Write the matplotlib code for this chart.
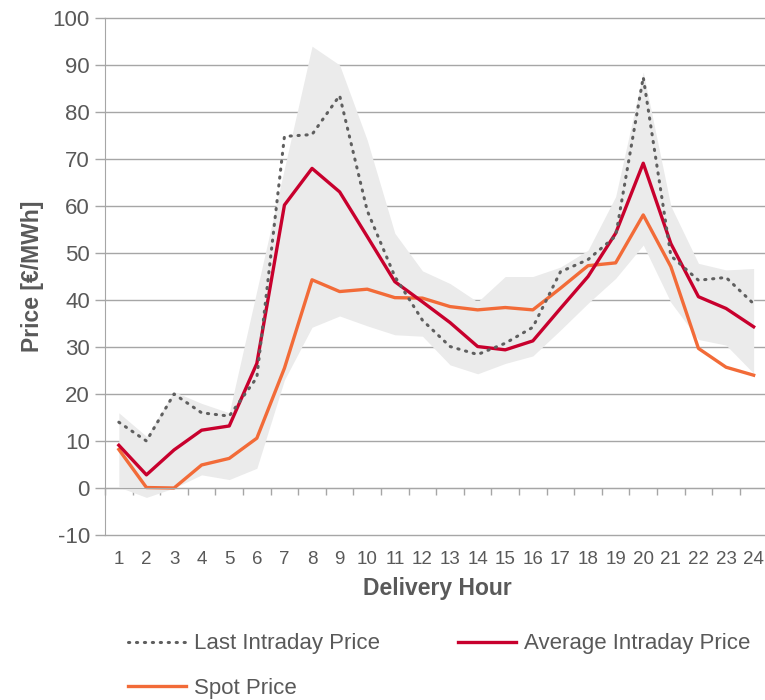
import numpy as np
import matplotlib
matplotlib.use("Agg")
import matplotlib.pyplot as plt
from matplotlib.ticker import FixedLocator, NullFormatter, FixedFormatter

plt.rcParams['font.family'] = ['Liberation Sans', 'DejaVu Sans']
plt.rcParams['axes.unicode_minus'] = False

# dados
hours = list(range(1, 25))
last_intraday = [14, 10, 20, 16, 15.3, 23.5, 74.8, 75.2, 83.5, 59, 45, 35.7,
                 30.1, 28.4, 30.8, 34.2, 46, 48.6, 53.6, 87.4, 49.4, 44.2, 44.8, 39.2]
avg_intraday = [9.1, 2.8, 8.1, 12.3, 13.2, 26.5, 60.2, 68, 63, 53.5, 43.9, 39.6,
                35.2, 30.1, 29.4, 31.3, 38.2, 45, 54.2, 69.1, 52, 40.7, 38.2, 34.3]
spot = [8.2, 0.1, 0, 4.9, 6.3, 10.6, 25.5, 44.3, 41.8, 42.3, 40.5, 40.4,
        38.6, 37.9, 38.4, 37.9, 42.5, 47.3, 47.9, 58.1, 47.1, 29.7, 25.7, 24.0]
band_high = [16, 11, 20.5, 18, 16, 42, 68, 94, 90, 74, 54.2, 46.2,
             43.5, 39.6, 45, 45, 47, 50.6, 62, 88.5, 60, 47.8, 46.4, 46.7]
band_low = [0.2, -2, 0, 2.8, 1.8, 4.2, 23, 34.2, 36.6, 34.5, 32.6, 32.3,
            26.2, 24.3, 26.5, 28.1, 33.6, 39.3, 44.6, 51.7, 39.5, 31.6, 30.4, 24.4]

txt = '#595959'
grid_c = '#a6a6a6'

fig = plt.figure(figsize=(7.65, 7.0), dpi=100)
ax = fig.add_axes([0.1373, 0.2357, 0.8659, 0.7386])

ax.fill_between(hours, band_low, band_high, color='#ebebeb', lw=0, zorder=1)
l1, = ax.plot(hours, last_intraday, color='#5f5f5f', lw=2.2,
              linestyle=(0, (0.4, 2.2)), dash_capstyle='round',
              label='Last Intraday Price', zorder=4)
l2, = ax.plot(hours, avg_intraday, color='#c8002d', lw=2.4,
              label='Average Intraday Price', zorder=3)
l3, = ax.plot(hours, spot, color='#f26b38', lw=2.4,
              label='Spot Price', zorder=2)

ax.set_xlim(0.5, 24.5)
ax.set_ylim(-10, 100)
ax.set_yticks(np.arange(-10, 101, 10))
ax.yaxis.grid(True, color=grid_c, lw=1.0, zorder=0)
for g in ax.get_ygridlines():
    g.set_clip_on(False)
ax.set_axisbelow(True)

for s in ['top', 'right']:
    ax.spines[s].set_visible(False)
ax.spines['left'].set_color(grid_c)
ax.spines['bottom'].set_color(grid_c)
ax.spines['bottom'].set_position(('data', 0))

# marcas entre categorias, rotulos abaixo de -10
ax.xaxis.set_major_locator(FixedLocator(np.arange(0.5, 25, 1)))
ax.xaxis.set_major_formatter(NullFormatter())
ax.xaxis.set_minor_locator(FixedLocator(hours))
ax.xaxis.set_minor_formatter(FixedFormatter([str(h) for h in hours]))
ax.tick_params(axis='x', which='major', length=5, color=grid_c, width=1)
ax.tick_params(axis='x', which='minor', length=0, pad=45, labelsize=13.5,
               labelcolor=txt)
ax.tick_params(axis='y', length=7, color=grid_c, width=1, labelsize=16,
               labelcolor=txt, pad=4)

ax.set_ylabel('Price [€/MWh]', fontsize=16.5, fontweight='bold', color=txt,
              labelpad=6)
fig.text(437 / 765, 1 - 589 / 700, 'Delivery Hour', ha='center',
         va='center', fontsize=16.5, fontweight='bold', color=txt)

leg = fig.legend([l1, l3, l2], ['Last Intraday Price', 'Spot Price',
                                'Average Intraday Price'],
                 ncol=2, frameon=False, loc='upper left',
                 bbox_to_anchor=(0.156, 0.108), fontsize=16,
                 handlelength=2.6, handletextpad=0.36, columnspacing=3.5,
                 labelspacing=1.05, borderaxespad=0)
for t in leg.get_texts():
    t.set_color(txt)

fig.savefig('out.png', dpi=100)
